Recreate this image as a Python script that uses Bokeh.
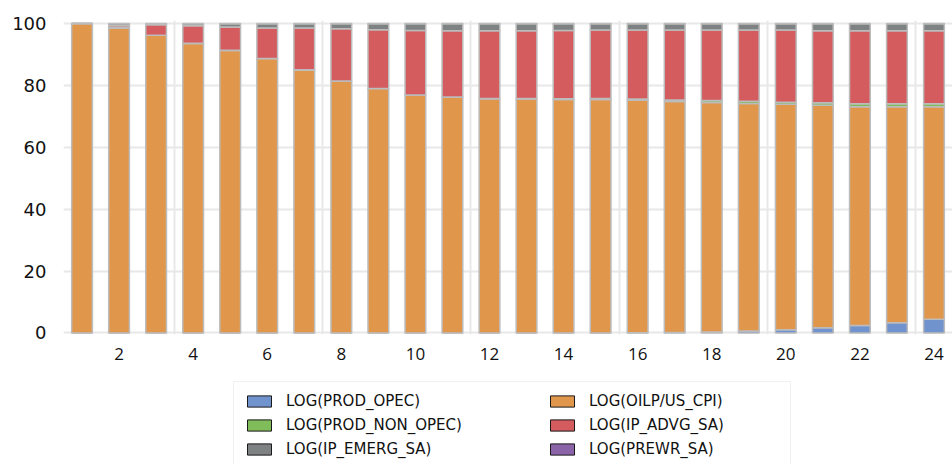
from bokeh.plotting import figure
from bokeh.layouts import column
from bokeh.models import ColumnDataSource, FixedTicker, Legend, LegendItem
from bokeh.embed import file_html
from bokeh.resources import INLINE

periods = list(range(1, 25))
x_tick_labels = [2, 4, 6, 8, 10, 12, 14, 16, 18, 20, 22, 24]
y_ticks = [0, 20, 40, 60, 80, 100]

prod_opec = [0, 0, 0, 0, 0, 0, 0, 0, 0, 0, 0, 0, 0, 0, 0, 0.1, 0.15, 0.3, 0.6, 1.0, 1.7, 2.4, 3.3, 4.4]
oilp_us_cpi = [100, 98.6, 96.2, 93.6, 91.3, 88.7, 85.0, 81.4, 79.0, 76.9, 76.2, 75.7, 75.6, 75.5, 75.5, 75.1, 74.65, 74.2, 73.6, 72.9, 71.9, 70.7, 69.8, 68.7]
prod_non_opec = [0, 0.05, 0.05, 0.05, 0.05, 0.05, 0.05, 0.05, 0.05, 0.05, 0.05, 0.1, 0.15, 0.2, 0.3, 0.4, 0.5, 0.6, 0.7, 0.7, 0.8, 1.0, 1.0, 1.0]
ip_advg_sa = [0, 0.65, 3.35, 5.65, 7.55, 9.85, 13.55, 16.85, 18.95, 20.85, 21.45, 21.9, 21.95, 22.1, 22.1, 22.3, 22.6, 22.8, 23.0, 23.3, 23.3, 23.6, 23.6, 23.6]
ip_emerg_sa = [0, 0.65, 0.35, 0.65, 1.05, 1.35, 1.35, 1.65, 1.95, 2.15, 2.25, 2.25, 2.25, 2.15, 2.05, 2.05, 2.05, 2.05, 2.05, 2.05, 2.25, 2.25, 2.25, 2.25]
prewr_sa = [0, 0.05, 0.05, 0.05, 0.05, 0.05, 0.05, 0.05, 0.05, 0.05, 0.05, 0.05, 0.05, 0.05, 0.05, 0.05, 0.05, 0.05, 0.05, 0.05, 0.05, 0.05, 0.05, 0.05]

series_keys = ["prod_opec", "oilp", "prod_non_opec", "ip_advg", "ip_emerg", "prewr"]
series_labels = ["LOG(PROD_OPEC)", "LOG(OILP/US_CPI)", "LOG(PROD_NON_OPEC)",
                 "LOG(IP_ADVG_SA)", "LOG(IP_EMERG_SA)", "LOG(PREWR_SA)"]
colors = ["#7093CE", "#E0974C", "#80BC5A", "#D45B5E", "#7F8283", "#8A63A8"]

source = ColumnDataSource(dict(
    x=periods,
    prod_opec=prod_opec,
    oilp=oilp_us_cpi,
    prod_non_opec=prod_non_opec,
    ip_advg=ip_advg_sa,
    ip_emerg=ip_emerg_sa,
    prewr=prewr_sa,
))

# ---------------- main chart ----------------
p = figure(width=952, height=370, output_backend="svg", toolbar_location=None,
           x_range=(0.5, 24.5), y_range=(-0.5, 101),
           min_border_left=63, min_border_right=0, min_border_top=20, min_border_bottom=36)
p.outline_line_color = None
p.background_fill_color = "white"

p.vbar_stack(series_keys, x="x", width=0.56, source=source,
             fill_color=colors, line_color="#bcbcbc", line_width=1.5)

p.xaxis.ticker = FixedTicker(ticks=x_tick_labels)
p.yaxis.ticker = FixedTicker(ticks=y_ticks)
for ax in (p.xaxis[0], p.yaxis[0]):
    ax.axis_line_color = None
    ax.major_tick_line_color = None
    ax.minor_tick_line_color = None
    ax.major_label_text_color = "#111111"
p.xaxis.major_label_text_font = "Open Sans"
p.xaxis.major_label_text_font_size = "17px"
p.yaxis.major_label_text_font = "DejaVu Sans"
p.yaxis.major_label_text_font_size = "18px"
p.xaxis.major_label_standoff = 7
p.yaxis.major_label_standoff = 11

p.xgrid.ticker = FixedTicker(ticks=[3.5, 7.5, 11.5, 15.5, 19.5, 23.5])
p.xgrid.grid_line_color = "#e8e8e8"
p.xgrid.grid_line_width = 2
p.ygrid.grid_line_color = "#e8e8e8"
p.ygrid.grid_line_width = 2
p.xgrid.level = "image"
p.ygrid.level = "image"

# ---------------- legend strip ----------------
lp = figure(width=952, height=94, output_backend="svg", toolbar_location=None,
            x_range=(0, 1), y_range=(0, 1), x_axis_type=None, y_axis_type=None,
            min_border=0, min_border_left=0, min_border_right=0,
            min_border_top=0, min_border_bottom=0)
lp.outline_line_color = None
lp.grid.visible = False
lp.axis.visible = False
lp.background_fill_color = "white"
lp.border_fill_color = "white"

# proxy renderers for the legend (kept entirely outside the visible ranges)
proxy = []
for c in colors:
    r = lp.vbar(x=[-5], top=[-5], bottom=-6, width=0.5,
                fill_color=c, line_color="#1a1a1a", line_width=1)
    proxy.append(r)

def make_legend(idx, loc, border, lw):
    items = [LegendItem(label=series_labels[i], renderers=[proxy[i]]) for i in idx]
    return Legend(items=items, location=loc, orientation="vertical",
                  label_text_font="DejaVu Sans", label_text_font_size="15px",
                  label_text_color="#111111",
                  glyph_width=30, glyph_height=14, label_standoff=12,
                  label_height=18, label_width=lw, spacing=6, padding=10, margin=0,
                  background_fill_color="white",
                  background_fill_alpha=1.0 if border else 0.0,
                  border_line_color="#e4e4e4" if border else None,
                  border_line_width=1)

leg1 = make_legend([0, 2, 4], (170, -5), True, 494)
leg2 = make_legend([1, 3, 5], (484, 6), False, 20)
lp.add_layout(leg1, "center")
lp.add_layout(leg2, "center")

layout = column(p, lp, spacing=0)
open("out.html", "w").write(file_html(layout, INLINE))
